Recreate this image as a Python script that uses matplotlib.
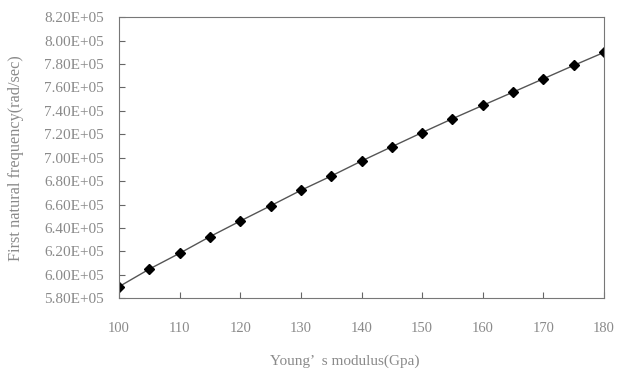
import matplotlib
matplotlib.use("Agg")
import matplotlib.pyplot as plt
from matplotlib.ticker import FuncFormatter, MultipleLocator

modulus = [100, 105, 110, 115, 120, 125, 130, 135, 140, 145, 150, 155, 160, 165, 170, 175, 180]
frequency = [5.90e5, 6.05e5, 6.185e5, 6.327e5, 6.46e5, 6.59e5, 6.722e5, 6.844e5, 6.972e5,
             7.094e5, 7.215e5, 7.333e5, 7.447e5, 7.56e5, 7.674e5, 7.788e5, 7.899e5]
x_ticks = [100, 110, 120, 130, 140, 150, 160, 170, 180]

plt.rcParams['font.family'] = ['Liberation Serif', 'DejaVu Serif']
txt = '#8a8a8a'

fig = plt.figure(figsize=(6.17, 3.72), dpi=100)
ax = fig.add_axes([0.193, 0.198, 0.786, 0.756])
ax.plot(modulus, frequency, color='#555555', lw=1.0, marker='D', markersize=5,
        markerfacecolor='black', markeredgecolor='black')
ax.set_xlim(100, 180)
ax.set_ylim(5.8e5, 8.2e5)
ax.set_xticks(x_ticks)
ax.yaxis.set_major_locator(MultipleLocator(0.2e5))
ax.yaxis.set_major_formatter(FuncFormatter(lambda v, p: '{:.2E}'.format(v)))
ax.tick_params(direction='in', length=4, width=0.8, color='#666666', labelcolor=txt)
ax.tick_params(axis='x', pad=17, labelsize=10.5)
ax.tick_params(axis='y', pad=11, labelsize=11)
for s in ax.spines.values():
    s.set_color('#777777')
    s.set_linewidth(0.8)
    s.set_linestyle((0, (1, 1)))
ax.set_xlabel('Young\u2019  s modulus(Gpa)', color=txt, fontsize=11)
ax.set_ylabel('First natural frequency(rad/sec)', color=txt, fontsize=11.7)
ax.xaxis.set_label_coords(0.466, -0.20)
ax.yaxis.set_label_coords(-0.196, 0.5)
fig.savefig('out.png', dpi=100)
